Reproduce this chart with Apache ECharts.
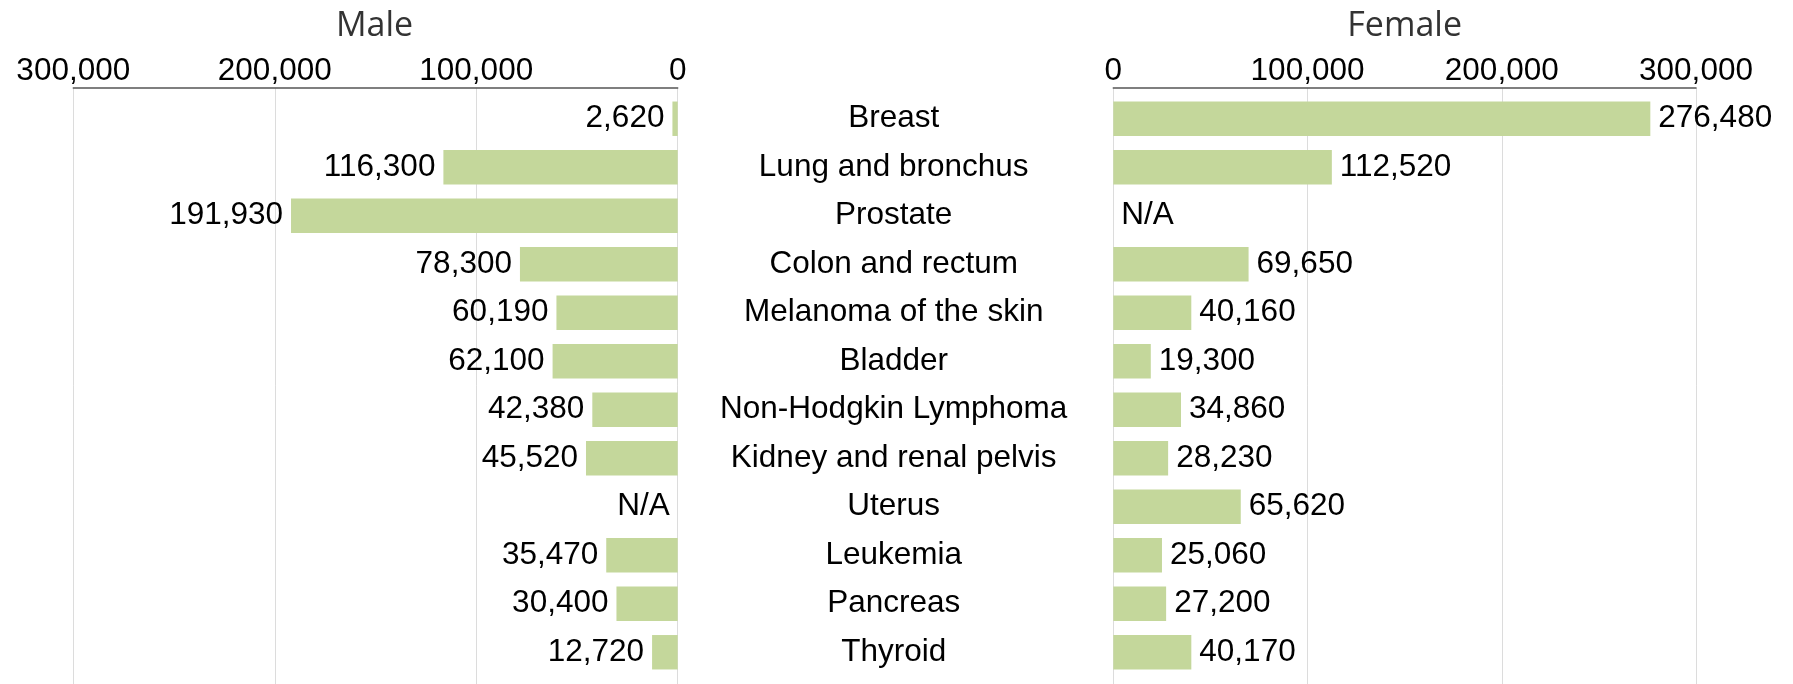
<!DOCTYPE html>
<html>
<head>
<meta charset="utf-8">
<script src="https://cdn.jsdelivr.net/npm/echarts@6/dist/echarts.min.js"></script>
<style>
html,body{margin:0;padding:0;background:#fff;}
#chart{width:1793px;height:684px;}
</style>
</head>
<body>
<div id="chart"></div>
<script>
const categories = ['Breast', 'Lung and bronchus', 'Prostate', 'Colon and rectum', 'Melanoma of the skin', 'Bladder', 'Non-Hodgkin Lymphoma', 'Kidney and renal pelvis', 'Uterus', 'Leukemia', 'Pancreas', 'Thyroid'];
const male = [2620, 116300, 191930, 78300, 60190, 62100, 42380, 45520, null, 35470, 30400, 12720];
const female = [276480, 112520, null, 69650, 40160, 19300, 34860, 28230, 65620, 25060, 27200, 40170];
const axisMin = 0, axisMax = 300000, axisStep = 100000;
const panelTitles = ['Male', 'Female'];

function fmt(v) { return String(Math.round(v)).replace(/\B(?=(\d{3})+(?!\d))/g, ','); }
function toData(arr) { return arr.map(v => v == null ? { value: 0, na: true } : v); }
function labelFmt(p) { return (p.data && p.data.na) ? 'N/A' : fmt(p.value); }

const FONT = '"Liberation Sans", Arial, Helvetica, sans-serif';
const FS = 31.5;
const BAR = '#C4D79B';
const L = { left: 73.3, width: 604.4 };
const R = { left: 1113.3, width: 582.7 };
const axisTop = 87.7, barTop = 94.5, barH = 582;
const TITLE_FONT = '500 34px "Open Sans", "Noto Sans", sans-serif';
const SHIFT = [4, 0, 0, 0];

function axisX(grid, inverse) {
  return {
    gridIndex: grid, type: 'value', min: axisMin, max: axisMax, interval: axisStep,
    inverse: inverse, position: 'top',
    axisLine: { show: true, lineStyle: { color: '#555', width: 1.5 } },
    axisTick: { show: false },
    axisLabel: { fontSize: FS, color: '#000', fontFamily: FONT, margin: 0, formatter: fmt },
    splitLine: { show: true, lineStyle: { color: '#dcdcdc', width: 1 } }
  };
}
function hiddenX(grid, inverse) {
  return { gridIndex: grid, type: 'value', min: axisMin, max: axisMax, interval: axisStep, inverse: inverse, show: false, splitLine: { show: false } };
}

const chart = echarts.init(document.getElementById('chart'), null, { renderer: 'canvas' });
chart.setOption({
  backgroundColor: '#fff',
  animation: false,
  graphic: [
    { type: 'text', x: L.left + L.width / 2 - 1, y: 26, style: { text: panelTitles[0], font: TITLE_FONT, fill: '#333', textAlign: 'center', textVerticalAlign: 'middle' } },
    { type: 'text', x: R.left + R.width / 2, y: 26, style: { text: panelTitles[1], font: TITLE_FONT, fill: '#333', textAlign: 'center', textVerticalAlign: 'middle' } }
  ],
  grid: [
    { left: L.left, width: L.width, top: axisTop, bottom: 0 },
    { left: L.left, width: L.width, top: barTop, height: barH },
    { left: R.left, width: R.width, top: axisTop, bottom: 0 },
    { left: R.left, width: R.width, top: barTop, height: barH }
  ],
  xAxis: [axisX(0, true), hiddenX(1, true), axisX(2, false), hiddenX(3, false)],
  yAxis: [
    { gridIndex: 0, type: 'category', data: categories, show: false },
    {
      gridIndex: 1, type: 'category', data: categories, inverse: true, position: 'right',
      axisLine: { show: false }, axisTick: { show: false }, splitLine: { show: false },
      axisLabel: { margin: 216, align: 'center', fontSize: FS, color: '#000', fontFamily: FONT, padding: SHIFT }
    },
    { gridIndex: 2, type: 'category', data: categories, show: false },
    { gridIndex: 3, type: 'category', data: categories, inverse: true, show: false }
  ],
  series: [
    {
      name: 'Male', type: 'bar', xAxisIndex: 1, yAxisIndex: 1, data: toData(male),
      barCategoryGap: '29%', itemStyle: { color: BAR },
      label: { show: true, position: 'left', distance: 8, fontSize: FS, color: '#000', fontFamily: FONT, formatter: labelFmt, padding: SHIFT }
    },
    {
      name: 'Female', type: 'bar', xAxisIndex: 3, yAxisIndex: 3, data: toData(female),
      barCategoryGap: '29%', itemStyle: { color: BAR },
      label: { show: true, position: 'right', distance: 8, fontSize: FS, color: '#000', fontFamily: FONT, formatter: labelFmt, padding: SHIFT }
    }
  ]
});
</script>
</body>
</html>
